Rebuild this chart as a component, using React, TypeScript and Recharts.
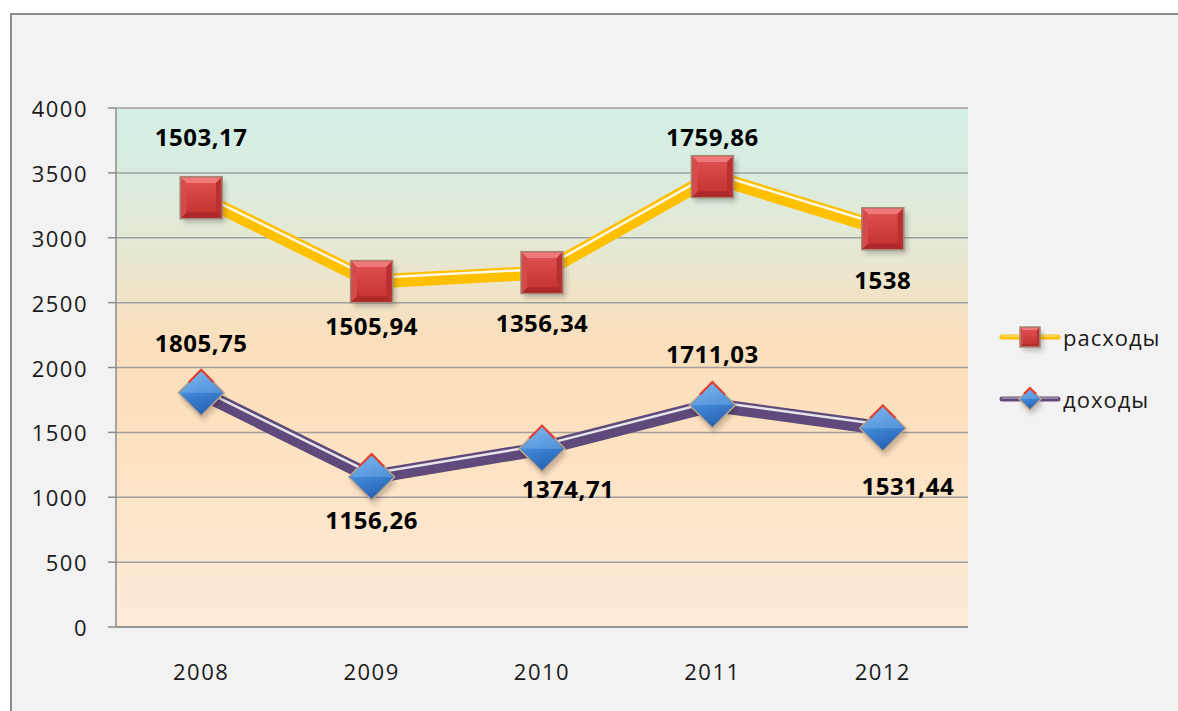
import React from 'react';
import { LineChart, Line, XAxis, YAxis, CartesianGrid, LabelList, Legend } from 'recharts';

const years = ['2008', '2009', '2010', '2011', '2012'];
const dohody = [1805.75, 1156.26, 1374.71, 1711.03, 1531.44];
const rashody = [1503.17, 1505.94, 1356.34, 1759.86, 1538];
const yTicks = [0, 500, 1000, 1500, 2000, 2500, 3000, 3500, 4000];

// label placement (layout only)
const rasLabelOffset = [
  [0, -61], [0, 44], [0, 50], [0, -40], [0, 51],
];
const dohLabelOffset = [
  [0, -50], [0, 43], [26, 40], [0, -51], [25, 57],
];

// stacked table built from the series
const data = years.map((y, i) => ({
  year: y,
  doh: dohody[i],
  ras: rashody[i],
  rasStack: Math.round((dohody[i] + rashody[i]) * 100) / 100,
}));

const FONT = '"Open Sans", "DejaVu Sans", sans-serif';
const fmt = (v: number) => String(v).replace('.', ',');

const SquareMark = ({ cx, cy, s }: { cx: number; cy: number; s: number }) => {
  const b = Math.max(3, s * 0.3);
  return (
    <g>
      <rect x={cx - s + 3} y={cy - s + 4} width={2 * s} height={2 * s} fill="#000" opacity={0.22} filter="url(#blurSh)" />
      <rect x={cx - s} y={cy - s} width={2 * s} height={2 * s} fill="url(#redGrad)" stroke="#a48a78" strokeWidth={1.5} />
      <polygon points={`${cx - s + 1},${cy - s + 1} ${cx + s - 1},${cy - s + 1} ${cx + s - b},${cy - s + b} ${cx - s + b},${cy - s + b}`} fill="#f07a7a" />
      <polygon points={`${cx - s + 1},${cy + s - 1} ${cx + s - 1},${cy + s - 1} ${cx + s - b},${cy + s - b} ${cx - s + b},${cy + s - b}`} fill="#9e2424" opacity={0.6} />
      <polygon points={`${cx - s + 1},${cy - s + 1} ${cx - s + b},${cy - s + b} ${cx - s + b},${cy + s - b} ${cx - s + 1},${cy + s - 1}`} fill="#d54a4a" />
      <polygon points={`${cx + s - 1},${cy - s + 1} ${cx + s - b},${cy - s + b} ${cx + s - b},${cy + s - b} ${cx + s - 1},${cy + s - 1}`} fill="#b83030" />
    </g>
  );
};

const DiamondMark = ({ cx, cy, s }: { cx: number; cy: number; s: number }) => (
  <g>
    <polygon points={`${cx + 2},${cy - s + 5} ${cx + s + 2},${cy + 5} ${cx + 2},${cy + s + 5} ${cx - s + 2},${cy + 5}`} fill="#000" opacity={0.2} filter="url(#blurSh)" />
    <polygon points={`${cx},${cy - s} ${cx + s},${cy} ${cx},${cy + s} ${cx - s},${cy}`} fill="url(#blueGrad)" stroke="#c0a48c" strokeWidth={1.5} />
    <polygon points={`${cx},${cy - s + 2} ${cx + s - 2},${cy} ${cx},${cy} ${cx - s + 2},${cy}`} fill="#8cc0f0" opacity={0.35} />
    <polyline points={`${cx - s * 0.55},${cy - s * 0.45} ${cx},${cy - s} ${cx + s * 0.55},${cy - s * 0.45}`} fill="none" stroke="#e83a2a" strokeWidth={2} />
  </g>
);

const squareDot = (p: any) => {
  if (p.cx == null || p.cy == null) return <g key={p.key} />;
  return <g key={p.key}><SquareMark cx={p.cx} cy={p.cy} s={21} /></g>;
};
const diamondDot = (p: any) => {
  if (p.cx == null || p.cy == null) return <g key={p.key} />;
  return <g key={p.key}><DiamondMark cx={p.cx} cy={p.cy} s={23} /></g>;
};

const makeLabel = (values: number[], offs: number[][]) => (p: any) => {
  const i = p.index;
  const [dx, dy] = offs[i];
  return (
    <text
      x={p.x + dx}
      y={p.y + dy}
      textAnchor="middle"
      dominantBaseline="central"
      fontFamily={FONT}
      fontWeight={700}
      fontSize={24}
      letterSpacing={0.5}
      fill="#000"
    >
      {fmt(values[i])}
    </text>
  );
};

const XTick = (p: any) => (
  <text x={p.x} y={p.y + 44} textAnchor="middle" dominantBaseline="central" fontFamily={FONT} fontSize={22} letterSpacing={1.5} fill="#1a1a1a">
    {p.payload.value}
  </text>
);
const YTick = (p: any) => (
  <text x={p.x} y={p.y} textAnchor="end" dominantBaseline="central" fontFamily={FONT} fontSize={22} letterSpacing={1.5} fill="#1a1a1a">
    {p.payload.value}
  </text>
);

const LegendContent = () => (
  <svg width={180} height={110}>
    <g>
      <line x1={8} y1={27} x2={64} y2={27} stroke="#ffc000" strokeWidth={5} strokeLinecap="round" />
      <line x1={8} y1={26} x2={64} y2={26} stroke="#fff" strokeWidth={1} opacity={0.7} />
      <SquareMark cx={36} cy={27} s={10} />
      <text x={69} y={27} dominantBaseline="central" fontFamily={FONT} fontSize={22} letterSpacing={1} fill="#1a1a1a">расходы</text>
    </g>
    <g>
      <line x1={8} y1={89} x2={64} y2={89} stroke="#604a7b" strokeWidth={5} strokeLinecap="round" />
      <line x1={8} y1={88} x2={64} y2={88} stroke="#fff" strokeWidth={1} opacity={0.6} />
      <DiamondMark cx={36} cy={89} s={11} />
      <text x={69} y={89} dominantBaseline="central" fontFamily={FONT} fontSize={22} letterSpacing={1} fill="#1a1a1a">доходы</text>
    </g>
  </svg>
);

export default function App() {
  return (
    <div style={{ position: 'absolute', left: 0, top: 0, width: 1178, height: 711, background: '#fff', overflow: 'hidden' }}>
      <style>{`.hl path { transform: translateY(-3.5px); }`}</style>
      <div style={{ position: 'absolute', left: 10, top: 13, width: 1200, height: 720, background: '#f2f2f2', borderLeft: '2.5px solid #8c8c8c', borderTop: '2.5px solid #8c8c8c', boxSizing: 'border-box' }} />
      <div style={{ position: 'absolute', left: 0, top: 0 }}>
        <LineChart width={1178} height={711} data={data} margin={{ top: 108, right: 210, left: 0, bottom: 34 }}>
          <defs>
            <linearGradient id="plotBg" x1="0" y1="0" x2="0" y2="1">
              <stop offset="0%" stopColor="#d2efe7" />
              <stop offset="25%" stopColor="#e3e9d6" />
              <stop offset="45%" stopColor="#fbdfbc" />
              <stop offset="60%" stopColor="#fde1be" />
              <stop offset="100%" stopColor="#fdebd9" />
            </linearGradient>
            <linearGradient id="redGrad" x1="0" y1="0" x2="0" y2="1">
              <stop offset="0%" stopColor="#e25454" />
              <stop offset="100%" stopColor="#c22e2e" />
            </linearGradient>
            <linearGradient id="blueGrad" x1="0" y1="0" x2="0.3" y2="1">
              <stop offset="0%" stopColor="#7cb6ee" />
              <stop offset="55%" stopColor="#3f86d6" />
              <stop offset="100%" stopColor="#2a64b4" />
            </linearGradient>
            <filter id="blurSh" x="-50%" y="-50%" width="200%" height="200%">
              <feGaussianBlur stdDeviation="2.5" />
            </filter>
          </defs>
          <CartesianGrid vertical={false} stroke="#a0a0a0" strokeWidth={1.5} fill="url(#plotBg)" fillOpacity={1} />
          <XAxis xAxisId="marks" type="number" domain={[0, 5]} ticks={[0, 1, 2, 3, 4, 5]} axisLine={false} tickLine={{ stroke: '#8c8c8c', strokeWidth: 1.5 }} tickSize={9} tick={() => <g />} height={0} />
          <XAxis dataKey="year" xAxisId="main" scale="band" tickLine={false} axisLine={{ stroke: '#8c8c8c', strokeWidth: 1.5 }} tickSize={0} tickMargin={0} tick={XTick} height={50} interval={0} />
          <YAxis domain={[0, 4000]} ticks={yTicks} width={116} tickSize={8} tickMargin={20} tick={YTick} axisLine={{ stroke: '#8c8c8c', strokeWidth: 1.5 }} tickLine={{ stroke: '#8c8c8c', strokeWidth: 1.5 }} interval={0} />
          <Legend layout="horizontal" align="center" verticalAlign="middle" content={LegendContent} wrapperStyle={{ position: 'absolute', left: 994, top: 310, width: 180, height: 110 }} />

          <Line xAxisId="main" dataKey="rasStack" stroke="#ffc000" strokeWidth={14} dot={false} activeDot={false} isAnimationActive={false} legendType="none" />
          <Line xAxisId="main" className="hl" dataKey="rasStack" stroke="#ffffff" strokeWidth={2.5} strokeOpacity={0.9} dot={false} activeDot={false} isAnimationActive={false} legendType="none" />
          <Line xAxisId="main" dataKey="doh" stroke="#604a7b" strokeWidth={14} dot={false} activeDot={false} isAnimationActive={false} legendType="none" />
          <Line xAxisId="main" className="hl" dataKey="doh" stroke="#ffffff" strokeWidth={2.5} strokeOpacity={0.85} dot={false} activeDot={false} isAnimationActive={false} legendType="none" />

          <Line xAxisId="main" dataKey="rasStack" name="расходы" stroke="none" dot={squareDot} activeDot={false} isAnimationActive={false}>
            <LabelList dataKey="ras" content={makeLabel(rashody, rasLabelOffset)} />
          </Line>
          <Line xAxisId="main" dataKey="doh" name="доходы" stroke="none" dot={diamondDot} activeDot={false} isAnimationActive={false}>
            <LabelList dataKey="doh" content={makeLabel(dohody, dohLabelOffset)} />
          </Line>
        </LineChart>
      </div>
    </div>
  );
}
